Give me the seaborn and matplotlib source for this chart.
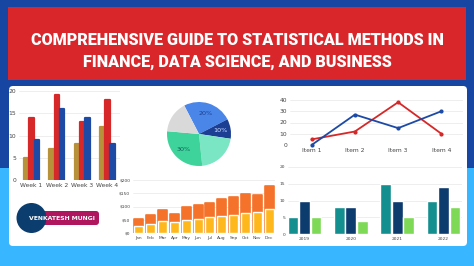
import matplotlib
matplotlib.use("Agg")
import matplotlib.pyplot as plt
import seaborn as sns
import pandas as pd
from matplotlib.patches import Rectangle, FancyBboxPatch, Circle

# ---------------- data ----------------
title_lines = ["COMPREHENSIVE GUIDE TO STATISTICAL METHODS IN",
               "FINANCE, DATA SCIENCE, AND BUSINESS"]
author = "VENKATESH MUNGI"

weeks = ["Week 1", "Week 2", "Week 3", "Week 4"]
week_series = ["S1", "S2", "S3"]
week_s1 = [5, 7, 8, 12]
week_s2 = [14, 19, 13, 18]
week_s3 = [9, 16, 14, 8]
week_ticks = [0, 5, 10, 15, 20]

pie_values = [25, 10, 21, 28, 16]
pie_labels = ["20%", "10%", "", "30%", ""]

items = ["Item 1", "Item 2", "Item 3", "Item 4"]
line_red = [5, 12, 38, 10]
line_blue = [0, 27, 15, 30]
line_ticks = [0, 10, 20, 30, 40]

months = ["Jan", "Feb", "Mar", "Apr", "May", "Jun",
          "Jul", "Aug", "Sep", "Oct", "Nov", "Dec"]
rev_total = [52, 69, 87, 72, 97, 107, 112, 127, 137, 147, 142, 177]
rev_base = [27, 34, 44, 40, 50, 54, 59, 64, 69, 74, 79, 89]
rev_ticks = [0, 50, 100, 150, 200]
rev_tick_labels = ["$0", "$50", "$100", "$150", "$200"]

years = ["2019", "2020", "2021", "2022"]
year_series = ["T1", "T2", "T3"]
year_s1 = [5, 8, 15, 10]
year_s2 = [10, 8, 10, 14]
year_s3 = [5, 4, 5, 8]
year_ticks = [0, 5, 10, 15, 20]

# ---------------- styles ----------------
DARK_BLUE = "#1746a2"
LIGHT_BLUE = "#38b6ff"
RED = "#d9262a"
W, H = 474, 266

sns.set_theme(style="white")
plt.rcParams["font.family"] = ["DejaVu Sans"]

fig = plt.figure(figsize=(W / 100, H / 100), dpi=100)

bg = fig.add_axes([0, 0, 1, 1])
bg.set_xlim(0, W)
bg.set_ylim(H, 0)
bg.axis("off")
bg.add_patch(Rectangle((0, 0), W, 168, color=DARK_BLUE, lw=0))
bg.add_patch(Rectangle((0, 168), W, H - 168, color=LIGHT_BLUE, lw=0))
bg.add_patch(Rectangle((8, 7), 458, 73, color=RED, lw=0))
bg.add_patch(FancyBboxPatch((9, 86), 458, 160,
                            boxstyle="round,pad=0,rounding_size=4",
                            fc="white", ec="none"))
for i, line in enumerate(title_lines):
    bg.text(237, 40 + 22 * i, line, ha="center", va="center", color="white",
            fontsize=11.6, fontweight="black", family=["Roboto", "DejaVu Sans"])

# badge
bg.add_patch(FancyBboxPatch((31, 211), 68, 14,
                            boxstyle="round,pad=0,rounding_size=3",
                            fc="#b0165e", ec="none", zorder=2))
bg.add_patch(Circle((31.5, 218), 15, color="#0b3d6e", lw=0, zorder=3))
bg.text(62, 218.5, author, ha="center", va="center", color="#ffffff",
        fontsize=4.4, fontweight="heavy", family=["DejaVu Sans"], zorder=6)


def px_axes(x0, y0, x1, y1):
    return fig.add_axes([x0 / W, 1 - y1 / H, (x1 - x0) / W, (y1 - y0) / H])


def style(ax, size=4.2):
    ax.set_facecolor("none")
    for s in ax.spines.values():
        s.set_visible(False)
    ax.grid(axis="y", color="#e8e8e8", lw=0.5)
    ax.grid(axis="x", visible=False)
    ax.set_axisbelow(True)
    ax.tick_params(length=0, labelsize=size, colors="#444444", pad=2)
    ax.set_xlabel("")
    ax.set_ylabel("")


def round_bars(ax, lw=1.4):
    for p in ax.patches:
        p.set_edgecolor(p.get_facecolor())
        p.set_linewidth(lw)
        p.set_joinstyle("round")


# ---- chart 1: weekly grouped bars ----
ax1 = px_axes(19, 91, 120, 180)
df1 = pd.DataFrame({
    "week": weeks * 3,
    "series": [s for s in week_series for _ in weeks],
    "value": week_s1 + week_s2 + week_s3,
})
sns.barplot(data=df1, x="week", y="value", hue="series",
            palette=["#b8923a", "#d62828", "#1d4aa5"], saturation=1,
            width=0.62, gap=0.15, ax=ax1, legend=False)
round_bars(ax1, 1.6)
ax1.set_ylim(0, 20)
ax1.set_xlim(-0.5, 3.5)
ax1.set_yticks(week_ticks)
style(ax1, 4.3)

# ---- chart 2: pie ----
ax2 = px_axes(159, 94, 239, 174)
wedges, texts = ax2.pie(pie_values,
                        colors=["#4a86e8", "#1c3f94", "#7ae6c4", "#3dd39b", "#d9d9d9"],
                        startangle=117.4, counterclock=False, labels=pie_labels,
                        labeldistance=0.68,
                        wedgeprops=dict(linewidth=0),
                        textprops=dict(fontsize=4.6, ha="center", va="center"))
for t, c in zip(texts, ["#1a3f8f", "#d5e3ff", "#000", "#17605a", "#000"]):
    t.set_color(c)
ax2.set_aspect("equal")

# ---- chart 3: lines ----
ax3 = px_axes(290, 100, 463, 145)
df3 = pd.DataFrame({
    "item": items * 2,
    "series": ["red"] * len(items) + ["blue"] * len(items),
    "value": line_red + line_blue,
})
sns.lineplot(data=df3, x="item", y="value", hue="series",
             palette=["#d62828", "#1d4aa5"], marker="o", markersize=3,
             markeredgewidth=0, lw=1.3, sort=False, ax=ax3, legend=False)
for ln in ax3.lines:
    ln.set_clip_on(False)
ax3.set_xlim(-0.5, 3.5)
ax3.set_ylim(0, 40)
ax3.set_yticks(line_ticks)
style(ax3, 4.3)

# ---- chart 4: stacked monthly bars ----
ax4 = px_axes(133, 180, 275, 233)
sns.barplot(x=months, y=rev_total, color="#f5722a", saturation=1,
            width=0.76, ax=ax4)
round_bars(ax4, 1.2)
sns.barplot(x=months, y=rev_base, color="#ffb81c", saturation=1,
            width=0.76, ax=ax4)
ax4.set_ylim(0, 200)
ax4.set_xlim(-0.5, 11.5)
ax4.set_yticks(rev_ticks)
ax4.set_yticklabels(rev_tick_labels)
style(ax4, 3.2)

# ---- chart 5: yearly grouped bars ----
ax5 = px_axes(288, 167, 462, 234)
df5 = pd.DataFrame({
    "year": years * 3,
    "series": [s for s in year_series for _ in years],
    "value": year_s1 + year_s2 + year_s3,
})
sns.barplot(data=df5, x="year", y="value", hue="series",
            palette=["#148f8f", "#0c3b6e", "#7ed957"], saturation=1,
            width=0.74, gap=0.06, ax=ax5, legend=False)
ax5.set_ylim(0, 20)
ax5.set_xlim(-0.356, 3.40)
ax5.set_yticks(year_ticks)
style(ax5, 3.2)

fig.savefig("out.png", dpi=100)
